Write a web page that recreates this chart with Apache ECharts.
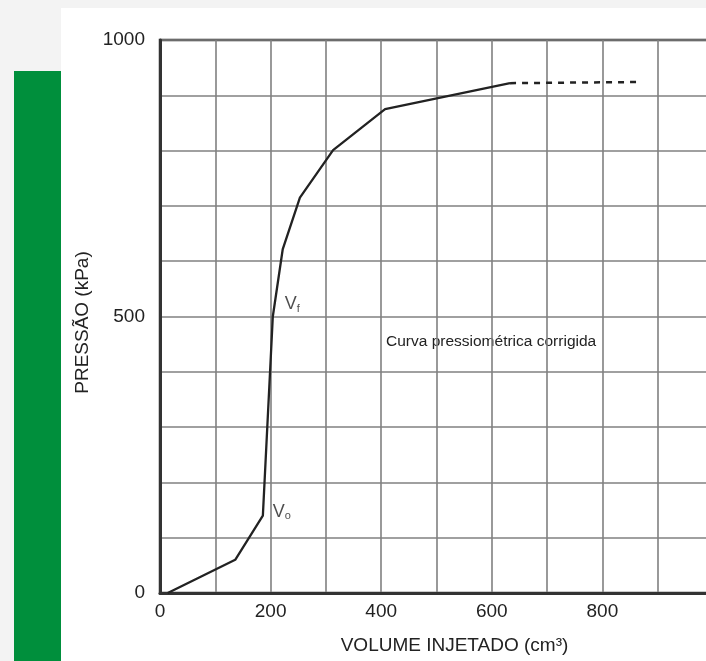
<!DOCTYPE html>
<html>
<head>
<meta charset="utf-8">
<script src="https://cdn.jsdelivr.net/npm/echarts@6/dist/echarts.min.js"></script>
<style>
  html, body { margin: 0; padding: 0; background: #f3f3f3; }
  #chart { width: 706px; height: 661px; }
</style>
</head>
<body>
<div id="chart"></div>
<script>
// curva pressiométrica (volume injetado x pressão)
const volume = [14, 136, 186, 204, 222, 253, 313, 407, 633];
const pressure = [0, 60, 140, 500, 622, 715, 801, 875, 922];
// trecho extrapolado (tracejado)
const volumeExt = [633, 868];
const pressureExt = [922, 924];
// pontos marcados V0 e Vf (subscrito)
const tags = [null, null, 'o', 'f', null, null, null, null, null];

const xTicks = [0, 200, 400, 600, 800];
const yTicks = [0, 500, 1000];

const chart = echarts.init(document.getElementById('chart'));

const curve = volume.map((v, i) => [v, pressure[i]]);
const ext = volumeExt.map((v, i) => [v, pressureExt[i]]);
const tagged = [];
tags.forEach((t, i) => {
  if (t) tagged.push({ value: [volume[i], pressure[i]], tag: t });
});

const font = 'Liberation Sans, Arial, sans-serif';

chart.setOption({
  backgroundColor: '#f3f3f3',
  animation: false,
  graphic: [
    { type: 'rect', left: 61, top: 8, shape: { width: 645, height: 653 }, style: { fill: '#ffffff' }, z: -10 },
    { type: 'rect', left: 14, top: 71, shape: { width: 47, height: 590 }, style: { fill: '#008f3c' }, z: -10 },
    {
      type: 'text', left: 386, top: 334,
      style: { text: 'Curva pressiométrica corrigida', font: '15.5px ' + font, fill: '#222' }
    }
  ],
  grid: {
    left: 160, top: 40, bottom: 68, right: -7,
    outerBoundsMode: 'none',
    show: true, borderColor: '#333', borderWidth: 2.5, backgroundColor: 'transparent'
  },
  xAxis: {
    type: 'value', min: 0, max: 1000, interval: 100,
    name: 'VOLUME INJETADO (cm³)', nameLocation: 'middle', nameGap: 43,
    nameTextStyle: { fontFamily: font, fontSize: 19, color: '#222', padding: [0, 0, 0, 36] },
    axisLine: { show: true, lineStyle: { color: '#333', width: 3 } },
    axisTick: { show: false },
    axisLabel: {
      margin: 9, fontFamily: font, fontSize: 19, color: '#222',
      formatter: v => (xTicks.includes(v) ? String(v) : '')
    },
    splitLine: { lineStyle: { color: '#808080', width: 1.6 } }
  },
  yAxis: {
    type: 'value', min: 0, max: 1000, interval: 100,
    name: 'PRESSÃO (kPa)', nameLocation: 'middle', nameGap: 56,
    nameTextStyle: { fontFamily: font, fontSize: 19, color: '#222', padding: [0, 12, 0, 0] },
    axisLine: { show: true, lineStyle: { color: '#333', width: 3 } },
    axisTick: { show: false },
    axisLabel: {
      margin: 15, fontFamily: font, fontSize: 19, color: '#222',
      formatter: v => (yTicks.includes(v) ? String(v) : '')
    },
    splitLine: { lineStyle: { color: '#808080', width: 1.6 } }
  },
  series: [
    {
      type: 'line', data: curve, showSymbol: false,
      lineStyle: { color: '#222', width: 2.3 }, z: 5
    },
    {
      type: 'line', data: ext, showSymbol: false,
      lineStyle: { color: '#222', width: 2.5, type: [6, 6] }, z: 5
    },
    {
      type: 'scatter', data: tagged, symbolSize: 0, silent: true,
      label: {
        show: true, position: 'right', distance: 10,
        formatter: p => '{v|V}{s|' + p.data.tag + '}',
        rich: {
          v: { fontFamily: font, fontSize: 18, color: '#222' },
          s: { fontFamily: font, fontSize: 11, color: '#222', padding: [8, 0, 0, 0] }
        }
      },
      labelLayout: p => (p.dataIndex === 1 ? { dx: 2, dy: -12 } : { dy: -4 })
    }
  ]
});
</script>
</body>
</html>
